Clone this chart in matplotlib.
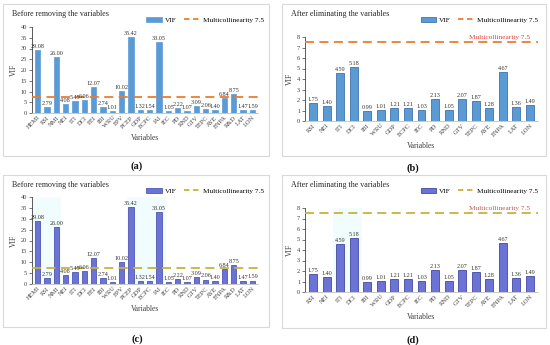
import matplotlib
matplotlib.use("Agg")
import matplotlib.pyplot as plt
from matplotlib.patches import Rectangle, Patch
from matplotlib.lines import Line2D

plt.rcParams['font.family'] = ['Liberation Serif', 'DejaVu Serif']

# data
vars_before = ["HEMI", "RSI", "NMI", "NEI", "ITI", "DCI", "EEI", "IBI", "WRU", "EPV",
               "PCEP", "GDP", "ECPC", "IAI", "IEC", "PD", "RND", "GTV", "TEPC", "AYE",
               "ENPA", "R&D", "LAT", "LON"]
vif_before = [29.08, 2.79, 26.00, 4.08, 5.45, 6.06, 12.07, 2.74, 1.01, 10.02,
              35.42, 1.32, 1.54, 33.05, 1.05, 2.22, 1.07, 3.09, 2.06, 1.40,
              6.84, 8.75, 1.47, 1.59]
vars_after = ["RSI", "NEI", "ITI", "DCI", "IBI", "WRU", "GDP", "ECPC", "IEC", "PD",
              "RND", "GTV", "TEPC", "AYE", "ENPA", "LAT", "LON"]
vif_after = [1.75, 1.40, 4.59, 5.18, 0.99, 1.01, 1.21, 1.21, 1.03, 2.13,
             1.05, 2.07, 1.87, 1.28, 4.67, 1.36, 1.49]
threshold = 7.5

W, H = 550, 345
fig = plt.figure(figsize=(5.5, 3.45), dpi=100)


def px_axes(x0, y0, x1, y1, **kw):
    return fig.add_axes([x0 / W, 1 - y1 / H, (x1 - x0) / W, (y1 - y0) / H], **kw)


def px_box(x0, y0, x1, y1):
    fig.patches.append(Rectangle((x0 / W, 1 - y1 / H), (x1 - x0) / W, (y1 - y0) / H,
                                 transform=fig.transFigure, fill=False,
                                 edgecolor='#d9d9d9', lw=0.8))


def px_text(x, y, s, **kw):
    fig.text(x / W, 1 - y / H, s, **kw)


def panel(box, axbox, cats, vals, ymax, ystep, title, cap, bar_c, bar_e, line_c,
          leg_x, red_label=None, spans=()):
    px_box(*box)
    ax = px_axes(*axbox)
    for a, b in spans:
        ax.axvspan(a, b, color='#f0fcfd', lw=0, zorder=0)
    x = range(len(cats))
    ax.bar(x, vals, width=0.58, color=bar_c, edgecolor=bar_e, lw=0.5, zorder=2)
    ax.axhline(threshold, color=line_c, ls=(0, (5, 3)), lw=1.3, zorder=3)
    for i, v in zip(x, vals):
        ax.text(i, v + ymax * 0.012, f"{v:.2f}", ha='center', va='bottom',
                fontsize=4.4, color='#333333')
    ax.set_xlim(-0.6, len(cats) - 0.4)
    ax.set_ylim(0, ymax)
    ax.set_yticks(range(0, ymax + 1, ystep))
    ax.set_xticks(list(x))
    ax.set_xticklabels(cats, rotation=45, ha='right', rotation_mode='anchor')
    ax.tick_params(axis='both', labelsize=4.6, length=2, width=0.5, pad=1.5,
                   colors='#404040')
    ax.tick_params(axis='x', length=0)
    for s in ('top', 'right'):
        ax.spines[s].set_visible(False)
    ax.spines['left'].set_color('#404040')
    ax.spines['bottom'].set_color('#bfbfbf')
    ax.spines['left'].set_linewidth(0.6)
    ax.spines['bottom'].set_linewidth(0.6)
    ax.set_ylabel("VIF", fontsize=5.5, labelpad=2, color='#404040')
    ax.set_xlabel("Variables", fontsize=5.5, labelpad=3, color='#404040')
    ax.patch.set_alpha(0)
    px_text(box[0] + 9, box[1] + 10, title, fontsize=5.8, va='center', color='#262626')
    handles = [Patch(facecolor=bar_c, edgecolor=bar_e, lw=0.5),
               Line2D([], [], color=line_c, ls=(0, (3, 2)), lw=1.3)]
    fig.legend(handles, ["VIF", "Multicollinearity 7.5"], loc='center left',
               bbox_to_anchor=(leg_x / W, 1 - (box[1] + 16) / H), ncol=2, frameon=False,
               fontsize=5.2, handlelength=2.2, handleheight=0.6, columnspacing=1.0,
               handletextpad=0.4)
    if red_label:
        ax.text(len(cats) - 1.0, threshold + 0.25, "Multicollinearity 7.5",
                ha='right', va='bottom', fontsize=5.2, color=red_label)
    px_text(cap[0], cap[1], cap[2], fontsize=7.5, fontweight='bold',
            ha='center', va='center', color='#111111')
    return ax


# (a)
panel((3, 4, 269, 156), (32, 27, 258, 113), vars_before, vif_before, 40, 5,
      "Before removing the variables", (137, 166, "(a)"),
      '#5b9bd5', '#5b9bd5', '#ed7d31', 140)
# (b)
panel((282, 4, 546, 156), (305, 37, 538, 121), vars_after, vif_after, 8, 1,
      "After eliminating the variables", (413, 168, "(b)"),
      '#5b9bd5', '#2e5f9e', '#ed7d31', 414, red_label='#e8403a')
# (c)
panel((3, 175, 269, 327), (32, 197, 258, 284), vars_before, vif_before, 40, 5,
      "Before removing the variables", (137, 339, "(c)"),
      '#6b74d6', '#3c44a8', '#c9b23a', 140, spans=[(-0.5, 2.5), (9.6, 13.7)])
# (d)
panel((282, 175, 546, 328), (305, 208, 538, 292), vars_after, vif_after, 8, 1,
      "After eliminating the variables", (413, 340, "(d)"),
      '#6b74d6', '#2c3290', '#c9b23a', 414, red_label='#b85a5a',
      spans=[(1.5, 3.6)])

fig.savefig("out.png", dpi=100)
